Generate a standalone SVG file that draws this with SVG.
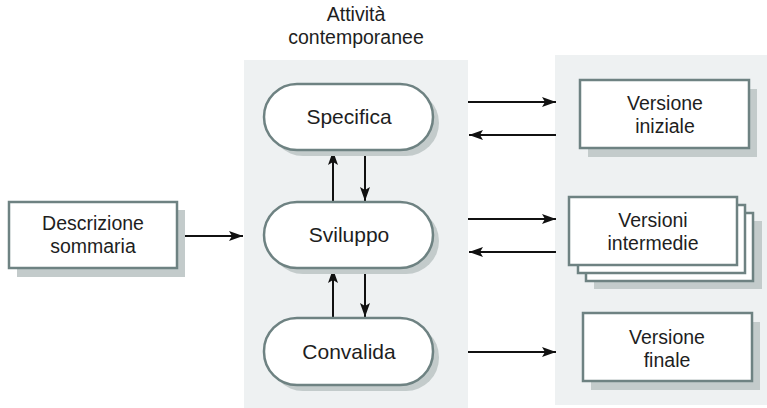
<svg xmlns="http://www.w3.org/2000/svg" width="767" height="408" viewBox="0 0 767 408">
  <defs>
    <marker id="arrow" viewBox="0 0 14 10" refX="14" refY="5" markerWidth="14" markerHeight="10" markerUnits="userSpaceOnUse" orient="auto">
      <path d="M0,0 L14,5 L0,10 L3,5 Z" fill="#111"/>
    </marker>
  </defs>
  <style>
    .panel { fill: #eef1f2; }
    .shadow { fill: #c3cbcb; }
    .box { fill: #ffffff; stroke: #6e8282; stroke-width: 2.5; }
    .label { font-family: "Liberation Sans", Arial, sans-serif; font-size: 21px; fill: #1e1e1e; text-anchor: middle; }
    .label2 { font-family: "Liberation Sans", Arial, sans-serif; font-size: 19.5px; fill: #1e1e1e; text-anchor: middle; }
    .link { stroke: #111; stroke-width: 2; fill: none; marker-end: url(#arrow); }
  </style>

  <rect width="767" height="408" fill="#ffffff"/>

  <!-- background panels -->
  <rect class="panel" x="244" y="60" width="224" height="348"/>
  <rect class="panel" x="555" y="55" width="212" height="350"/>

  <text class="label2" x="356" y="21">Attività</text>
  <text class="label2" x="356" y="44">contemporanee</text>

  <!-- connectors -->
  <g id="connectors">
    <line class="link" x1="178" y1="236" x2="243" y2="236"/>
    <line class="link" x1="333" y1="202" x2="333" y2="151"/>
    <line class="link" x1="365" y1="151" x2="365" y2="201"/>
    <line class="link" x1="333" y1="318" x2="333" y2="269"/>
    <line class="link" x1="365" y1="269" x2="365" y2="317"/>
    <line class="link" x1="468" y1="102" x2="556" y2="102"/>
    <line class="link" x1="556" y1="135" x2="469" y2="135"/>
    <line class="link" x1="468" y1="219" x2="556" y2="219"/>
    <line class="link" x1="556" y1="252" x2="469" y2="252"/>
    <line class="link" x1="468" y1="352" x2="556" y2="352"/>
  </g>

  <g id="descrizione">
    <rect class="shadow" x="17" y="210" width="168" height="67"/>
    <rect class="box" x="9" y="202" width="168" height="66"/>
    <text class="label2" x="93" y="230">Descrizione</text>
    <text class="label2" x="93" y="253">sommaria</text>
  </g>

  <g id="specifica">
    <rect class="shadow" x="270" y="90" width="169" height="66" rx="33"/>
    <rect class="box" x="264" y="84" width="169" height="66" rx="33"/>
    <text class="label" x="349" y="124">Specifica</text>
  </g>

  <g id="sviluppo">
    <rect class="shadow" x="270" y="208" width="169" height="66" rx="33"/>
    <rect class="box" x="264" y="202" width="169" height="66" rx="33"/>
    <text class="label" x="349" y="242">Sviluppo</text>
  </g>

  <g id="convalida">
    <rect class="shadow" x="270" y="324" width="169" height="67" rx="33"/>
    <rect class="box" x="264" y="318" width="169" height="67" rx="33"/>
    <text class="label" x="349" y="359">Convalida</text>
  </g>

  <g id="versione-iniziale">
    <rect class="shadow" x="588" y="89" width="169" height="68"/>
    <rect class="box" x="580" y="80" width="169" height="68"/>
    <text class="label2" x="665" y="110">Versione</text>
    <text class="label2" x="665" y="133">iniziale</text>
  </g>

  <g id="versioni-intermedie">
    <rect class="shadow" x="594" y="221" width="168" height="68"/>
    <rect class="box" x="586" y="213" width="167" height="68"/>
    <rect class="box" x="578" y="205" width="167" height="68"/>
    <rect class="box" x="569" y="197" width="168" height="68"/>
    <text class="label2" x="653" y="227">Versioni</text>
    <text class="label2" x="653" y="250">intermedie</text>
  </g>

  <g id="versione-finale">
    <rect class="shadow" x="591" y="322" width="169" height="68"/>
    <rect class="box" x="583" y="313" width="169" height="68"/>
    <text class="label2" x="667" y="344">Versione</text>
    <text class="label2" x="667" y="367">finale</text>
  </g>
</svg>
